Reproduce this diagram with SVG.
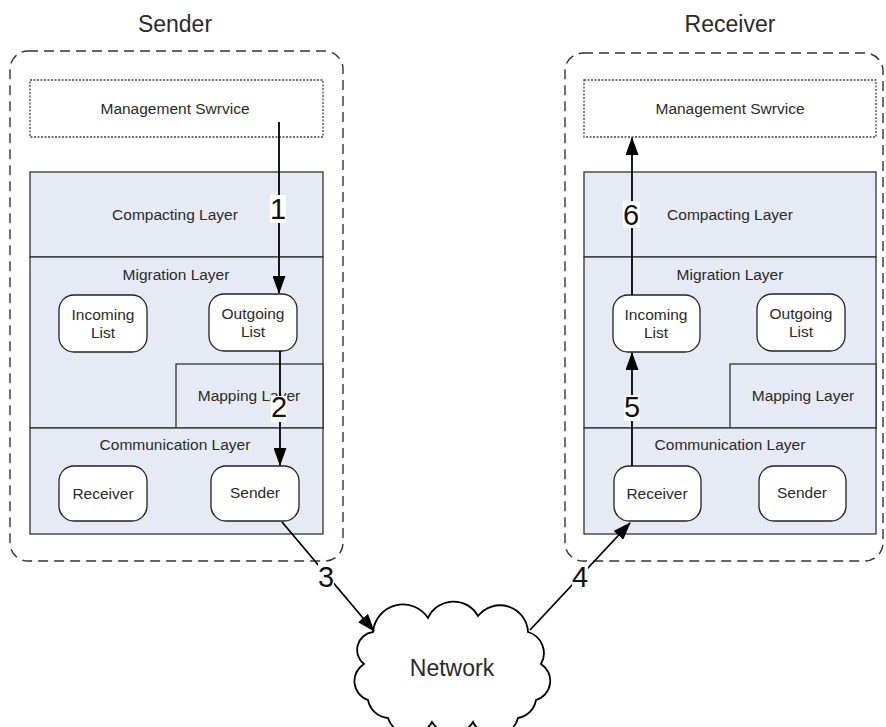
<svg xmlns="http://www.w3.org/2000/svg" width="886" height="727" viewBox="0 0 886 727">
<defs>
<marker id="arr" markerWidth="18" markerHeight="13" refX="17" refY="6.5" orient="auto" markerUnits="userSpaceOnUse">
<path d="M0,0 L18,6.5 L0,13 z" fill="#000"/>
</marker>
<style>
text{font-family:"Liberation Sans",Arial,sans-serif;fill:#2a2a2a;text-anchor:middle}
.t{font-size:15.5px}
.title{font-size:23px}
.num{font-size:29px;fill:#111}
.outer{fill:none;stroke:#333;stroke-width:1.4;stroke-dasharray:10,6}
.mgmt{fill:#fff;stroke:#444;stroke-width:1.3;stroke-dasharray:2,1.5}
.layer{fill:#e6eaf5;stroke:#333;stroke-width:1.3}
.box{fill:#fff;stroke:#222;stroke-width:1.3}
.conn{fill:none;stroke:#000;stroke-width:1.8}
.lbl{fill:#fff}
</style>
</defs>
<rect width="886" height="727" fill="#fff"/>

<g id="sender-side">
<text class="title" x="175" y="32">Sender</text>
<rect class="outer" x="10" y="51" width="333" height="510" rx="18"/>
</g>
<g id="s-mgmt"><rect class="mgmt" x="30" y="80" width="293" height="57"/><text class="t" x="175" y="114">Management Swrvice</text></g>
<g id="s-compacting"><rect class="layer" x="30" y="172" width="293" height="85"/><text class="t" x="175" y="220">Compacting Layer</text></g>
<g id="s-migration"><rect class="layer" x="30" y="257" width="293" height="171"/><text class="t" x="176" y="280">Migration Layer</text></g>
<g id="s-mapping"><rect class="layer" x="176" y="364" width="147" height="64"/><text class="t" x="249" y="401">Mapping Layer</text></g>
<g id="s-communication"><rect class="layer" x="30" y="428" width="293" height="106"/><text class="t" x="175" y="450">Communication Layer</text></g>
<g id="s-incoming"><rect class="box" x="59" y="295" width="88" height="57" rx="15"/><text class="t" x="103" y="320">Incoming</text><text class="t" x="103" y="338">List</text></g>
<g id="s-outgoing"><rect class="box" x="209" y="294" width="88" height="57" rx="15"/><text class="t" x="253" y="319">Outgoing</text><text class="t" x="253" y="337">List</text></g>
<g id="s-receiver"><rect class="box" x="59" y="466" width="88" height="55" rx="15"/><text class="t" x="103" y="499">Receiver</text></g>
<g id="s-sender"><rect class="box" x="211" y="466" width="88" height="55" rx="15"/><text class="t" x="255" y="498">Sender</text></g>

<g id="receiver-side">
<text class="title" x="730" y="32">Receiver</text>
<rect class="outer" x="565" y="53" width="318" height="508" rx="18"/>
</g>
<g id="r-mgmt"><rect class="mgmt" x="584" y="80" width="292" height="57"/><text class="t" x="730" y="114">Management Swrvice</text></g>
<g id="r-compacting"><rect class="layer" x="584" y="172" width="292" height="85"/><text class="t" x="730" y="220">Compacting Layer</text></g>
<g id="r-migration"><rect class="layer" x="584" y="257" width="292" height="171"/><text class="t" x="730" y="280">Migration Layer</text></g>
<g id="r-mapping"><rect class="layer" x="730" y="364" width="146" height="64"/><text class="t" x="803" y="401">Mapping Layer</text></g>
<g id="r-communication"><rect class="layer" x="584" y="428" width="292" height="106"/><text class="t" x="730" y="450">Communication Layer</text></g>
<g id="r-incoming"><rect class="box" x="613" y="295" width="87" height="57" rx="15"/><text class="t" x="656" y="320">Incoming</text><text class="t" x="656" y="338">List</text></g>
<g id="r-outgoing"><rect class="box" x="757" y="294" width="88" height="57" rx="15"/><text class="t" x="801" y="319">Outgoing</text><text class="t" x="801" y="337">List</text></g>
<g id="r-receiver"><rect class="box" x="614" y="466" width="87" height="55" rx="15"/><text class="t" x="657" y="499">Receiver</text></g>
<g id="r-sender"><rect class="box" x="759" y="466" width="87" height="55" rx="15"/><text class="t" x="802" y="498">Sender</text></g>

<g id="network">
<path d="M373,632 A30,30 0 0 1 428,618 A28,28 0 0 1 478,616 A28,28 0 0 1 528,632 A22,22 0 0 1 541,664 A20,20 0 0 1 536,700 A22,22 0 0 1 518,718 A24,24 0 0 1 473,722 A24,24 0 0 1 432,722 A24,24 0 0 1 388,718 A22,22 0 0 1 368,700 A20,20 0 0 1 364,664 A18,18 0 0 1 373,632 z" fill="#fff" stroke="#000" stroke-width="1.8"/>
<text x="452" y="676" style="font-size:23px">Network</text>
</g>

<g id="connectors">
<line class="conn" x1="279" y1="122" x2="279" y2="293" marker-end="url(#arr)"/>
<line class="conn" x1="280" y1="351" x2="280" y2="465" marker-end="url(#arr)"/>
<line class="conn" x1="282" y1="522" x2="374" y2="631" marker-end="url(#arr)"/>
<line class="conn" x1="530" y1="630" x2="630" y2="523" marker-end="url(#arr)"/>
<line class="conn" x1="632" y1="466" x2="632" y2="353" marker-end="url(#arr)"/>
<line class="conn" x1="632" y1="295" x2="632" y2="138" marker-end="url(#arr)"/>
<rect class="lbl" x="270" y="195" width="16" height="28"/><text class="num" x="278" y="219">1</text>
<rect class="lbl" x="271" y="396" width="16" height="26"/><text class="num" x="279" y="417">2</text>
<rect class="lbl" x="318" y="563" width="16" height="27"/><text class="num" x="326" y="587">3</text>
<rect class="lbl" x="572" y="566" width="16" height="24"/><text class="num" x="580" y="587">4</text>
<rect class="lbl" x="624" y="395" width="16" height="26"/><text class="num" x="632" y="417">5</text>
<rect class="lbl" x="623" y="201" width="17" height="27"/><text class="num" x="631" y="225">6</text>
</g>
</svg>
